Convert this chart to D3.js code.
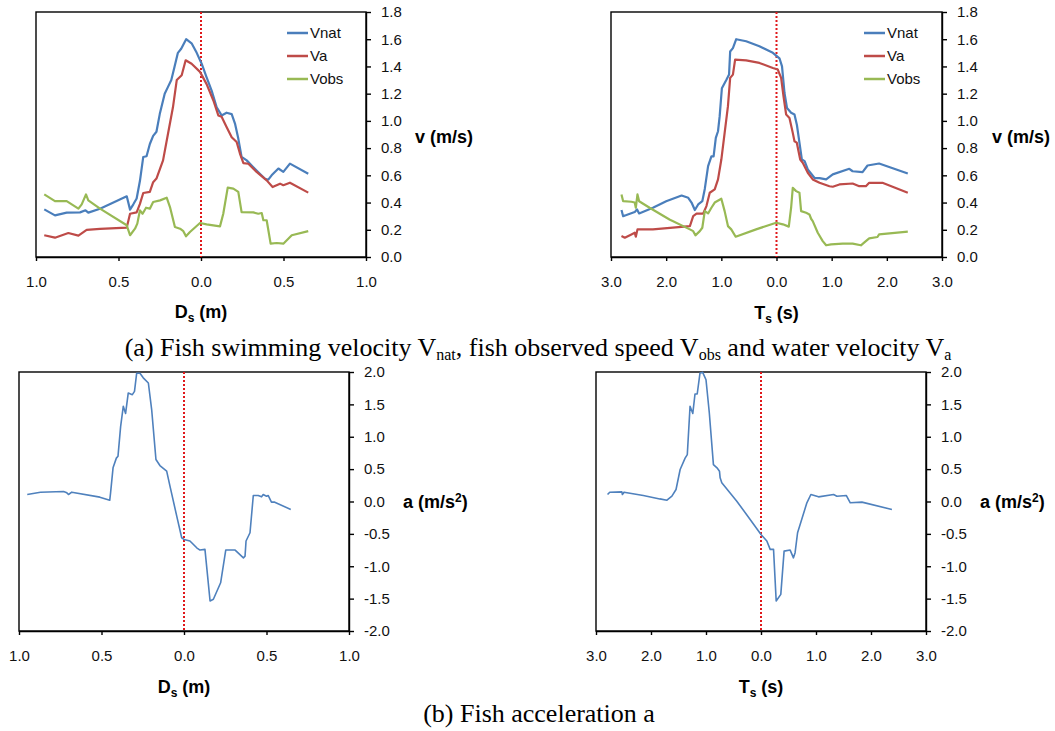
<!DOCTYPE html>
<html>
<head>
<meta charset="utf-8">
<script src="https://cdn.jsdelivr.net/npm/d3@7"></script>
<style>
body { margin: 0; background: #fff; }
svg { display: block; }
</style>
</head>
<body>
<div id="chart-area"></div>
<script>
// ---- data: [x, value] pairs ----
// (a) velocity against distance Ds (m)
const vnatDist = [[-0.95,0.35],[-0.885,0.306],[-0.814,0.326],[-0.733,0.328],[-0.70,0.343],[-0.683,0.326],[-0.612,0.355],[-0.45,0.446],[-0.43,0.348],[-0.41,0.387],[-0.39,0.43],[-0.37,0.56],[-0.35,0.735],[-0.33,0.74],[-0.31,0.83],[-0.29,0.89],[-0.27,0.92],[-0.25,1.05],[-0.22,1.2],[-0.20,1.25],[-0.18,1.3],[-0.16,1.4],[-0.14,1.5],[-0.12,1.53],[-0.09,1.6],[-0.057,1.57],[-0.026,1.5],[0.004,1.42],[0.034,1.32],[0.065,1.22],[0.095,1.10],[0.125,1.04],[0.155,1.06],[0.186,1.05],[0.206,0.98],[0.226,0.87],[0.246,0.735],[0.277,0.71],[0.317,0.66],[0.358,0.61],[0.388,0.575],[0.408,0.568],[0.428,0.60],[0.469,0.65],[0.499,0.625],[0.539,0.686],[0.65,0.612]];
const vaDist = [[-0.95,0.16],[-0.885,0.142],[-0.804,0.176],[-0.743,0.157],[-0.693,0.20],[-0.612,0.206],[-0.45,0.216],[-0.43,0.318],[-0.39,0.328],[-0.37,0.39],[-0.35,0.47],[-0.31,0.478],[-0.29,0.55],[-0.27,0.576],[-0.23,0.71],[-0.20,0.906],[-0.17,1.10],[-0.147,1.30],[-0.117,1.335],[-0.093,1.445],[-0.057,1.42],[-0.006,1.36],[0.034,1.27],[0.075,1.15],[0.105,1.04],[0.125,1.03],[0.155,0.955],[0.186,0.88],[0.216,0.845],[0.236,0.76],[0.257,0.69],[0.287,0.685],[0.337,0.625],[0.398,0.563],[0.434,0.514],[0.479,0.539],[0.499,0.527],[0.539,0.546],[0.65,0.473]];
const vobsDist = [[-0.95,0.46],[-0.885,0.41],[-0.814,0.41],[-0.743,0.355],[-0.723,0.387],[-0.697,0.46],[-0.683,0.416],[-0.612,0.355],[-0.45,0.233],[-0.43,0.16],[-0.40,0.208],[-0.386,0.245],[-0.37,0.343],[-0.354,0.318],[-0.333,0.362],[-0.31,0.355],[-0.29,0.404],[-0.248,0.416],[-0.208,0.436],[-0.188,0.367],[-0.158,0.22],[-0.127,0.208],[-0.107,0.19],[-0.091,0.152],[-0.067,0.184],[-0.006,0.25],[0.034,0.24],[0.115,0.225],[0.135,0.318],[0.162,0.51],[0.196,0.502],[0.226,0.478],[0.246,0.33],[0.317,0.328],[0.347,0.318],[0.368,0.323],[0.378,0.27],[0.398,0.27],[0.422,0.098],[0.459,0.103],[0.499,0.098],[0.55,0.16],[0.65,0.19]];

// (a) velocity against time Ts (s)
const vnatTime = [[-2.81,0.345],[-2.78,0.30],[-2.72,0.308],[-2.57,0.33],[-2.53,0.35],[-2.49,0.32],[-2.24,0.362],[-2.0,0.41],[-1.72,0.452],[-1.60,0.435],[-1.54,0.40],[-1.48,0.345],[-1.42,0.386],[-1.345,0.41],[-1.30,0.50],[-1.24,0.667],[-1.18,0.74],[-1.14,0.74],[-1.10,0.875],[-1.06,0.924],[-1.03,1.035],[-0.99,1.24],[-0.91,1.30],[-0.86,1.34],[-0.84,1.51],[-0.79,1.535],[-0.73,1.60],[-0.55,1.585],[-0.31,1.548],[-0.066,1.50],[0.054,1.46],[0.10,1.40],[0.145,1.205],[0.19,1.095],[0.265,1.06],[0.326,1.047],[0.37,0.97],[0.416,0.84],[0.46,0.716],[0.51,0.704],[0.567,0.643],[0.69,0.58],[0.78,0.58],[0.90,0.57],[1.02,0.607],[1.32,0.648],[1.38,0.63],[1.56,0.624],[1.65,0.672],[1.86,0.687],[2.38,0.614]];
const vaTime = [[-2.81,0.154],[-2.75,0.142],[-2.63,0.166],[-2.57,0.178],[-2.55,0.149],[-2.52,0.203],[-2.24,0.203],[-1.57,0.227],[-1.51,0.30],[-1.45,0.318],[-1.33,0.318],[-1.27,0.374],[-1.21,0.472],[-1.12,0.497],[-1.06,0.57],[-1.0,0.716],[-0.94,0.912],[-0.88,1.108],[-0.84,1.316],[-0.79,1.34],[-0.75,1.45],[-0.55,1.445],[-0.31,1.426],[-0.066,1.389],[0.024,1.377],[0.084,1.316],[0.127,1.18],[0.175,1.047],[0.235,1.022],[0.295,0.912],[0.326,0.85],[0.368,0.84],[0.43,0.716],[0.476,0.692],[0.567,0.619],[0.657,0.57],[0.78,0.545],[0.96,0.52],[1.02,0.516],[1.14,0.533],[1.38,0.54],[1.50,0.52],[1.62,0.52],[1.68,0.545],[1.92,0.545],[2.38,0.472]];
const vobsTime = [[-2.81,0.46],[-2.78,0.41],[-2.63,0.406],[-2.57,0.40],[-2.55,0.362],[-2.52,0.46],[-2.49,0.41],[-2.30,0.362],[-1.94,0.276],[-1.57,0.203],[-1.51,0.19],[-1.47,0.159],[-1.39,0.19],[-1.345,0.215],[-1.30,0.337],[-1.24,0.32],[-1.18,0.362],[-1.12,0.40],[-1.0,0.428],[-0.94,0.337],[-0.88,0.227],[-0.82,0.203],[-0.74,0.149],[-0.37,0.203],[-0.006,0.252],[0.115,0.24],[0.223,0.223],[0.265,0.362],[0.295,0.508],[0.356,0.484],[0.416,0.472],[0.446,0.337],[0.537,0.325],[0.597,0.313],[0.627,0.281],[0.657,0.264],[0.748,0.178],[0.838,0.117],[0.90,0.086],[0.99,0.093],[1.20,0.098],[1.38,0.098],[1.53,0.086],[1.62,0.117],[1.68,0.137],[1.83,0.147],[1.86,0.166],[2.38,0.186]];

// (b) acceleration against distance and time
const accDist = [[-0.95,0.108],[-0.87,0.144],[-0.73,0.154],[-0.71,0.134],[-0.70,0.108],[-0.68,0.144],[-0.51,0.067],[-0.45,0.02],[-0.445,0.134],[-0.43,0.52],[-0.41,0.67],[-0.40,0.70],[-0.384,1.16],[-0.368,1.47],[-0.354,1.36],[-0.338,1.675],[-0.313,1.65],[-0.30,1.70],[-0.287,1.98],[-0.267,1.98],[-0.247,1.91],[-0.216,1.83],[-0.196,1.42],[-0.17,0.648],[-0.146,0.555],[-0.105,0.468],[-0.085,0.237],[-0.044,-0.226],[-0.014,-0.56],[0,-0.586],[0.036,-0.61],[0.077,-0.715],[0.097,-0.75],[0.127,-0.74],[0.158,-1.537],[0.178,-1.51],[0.222,-1.255],[0.253,-0.75],[0.31,-0.75],[0.36,-0.87],[0.37,-0.843],[0.376,-0.61],[0.40,-0.483],[0.42,0.093],[0.45,0.093],[0.47,0.072],[0.48,0.108],[0.50,0.082],[0.51,0.093],[0.53,-0.01],[0.55,-0.01],[0.647,-0.123]];
const accTime = [[-2.79,0.108],[-2.75,0.144],[-2.53,0.149],[-2.52,0.108],[-2.49,0.144],[-2.14,0.093],[-1.84,0.04],[-1.71,0.02],[-1.62,0.082],[-1.545,0.185],[-1.47,0.494],[-1.38,0.67],[-1.34,0.725],[-1.29,1.47],[-1.24,1.36],[-1.20,1.66],[-1.16,1.66],[-1.11,1.98],[-1.06,1.995],[-1.0,1.88],[-0.94,1.37],[-0.865,0.57],[-0.80,0.52],[-0.755,0.468],[-0.743,0.365],[-0.713,0.288],[-0.44,0.005],[-0.197,-0.278],[0,-0.51],[0.106,-0.61],[0.167,-0.74],[0.228,-0.74],[0.276,-1.537],[0.36,-1.434],[0.42,-0.766],[0.53,-0.75],[0.59,-0.87],[0.62,-0.79],[0.665,-0.483],[0.834,-0.02],[0.907,0.108],[1.046,0.072],[1.32,0.108],[1.38,0.082],[1.55,0.093],[1.623,-0.02],[1.835,-0.01],[2.38,-0.123]];

const seriesNames = ["Vnat", "Va", "Vobs"];
const seriesColors = ["#4a7ebb", "#be4b48", "#98b954"];

const svg = d3.select("#chart-area").append("svg")
	.attr("width", 1055)
	.attr("height", 731);

function fmt1(d) { return (Math.round(Math.abs(d) * 10) / 10).toFixed(1); }
function fmtY(d) { return (Math.round(d * 10) / 10).toFixed(1); }

function panel(o) {
	let g = svg.append("g");

	let x = d3.scaleLinear().domain([-o.xMax, o.xMax]).range([o.left, o.right]);
	let y = d3.scaleLinear().domain([o.yMin, o.yMax]).range([o.bottom, o.top]);

	let nx = Math.round(2 * o.xMax / o.xStep);
	let ny = Math.round((o.yMax - o.yMin) / o.yStep);
	let xTicks = d3.range(nx + 1).map(i => -o.xMax + i * o.xStep);
	let yTicks = d3.range(ny + 1).map(i => o.yMin + i * o.yStep);

	// frame
	g.append("rect")
		.attr("x", o.left).attr("y", o.top)
		.attr("width", o.right - o.left).attr("height", o.bottom - o.top)
		.attr("fill", "none").attr("stroke", "#000").attr("stroke-width", 1.4);

	let xAxis = g.append("g")
		.attr("transform", "translate(0," + o.bottom + ")")
		.call(d3.axisBottom(x).tickValues(xTicks).tickFormat(fmt1).tickSize(4).tickPadding(15).tickSizeOuter(0));
	let yAxis = g.append("g")
		.attr("transform", "translate(" + o.right + ",0)")
		.call(d3.axisRight(y).tickValues(yTicks).tickFormat(fmtY).tickSize(5).tickPadding(10).tickSizeOuter(0));

	[xAxis, yAxis].forEach(a => {
		a.select(".domain").attr("stroke", "#000").attr("stroke-width", 1.4);
		a.selectAll(".tick line").attr("stroke", "#000").attr("stroke-width", 1.4);
		a.selectAll("text")
			.attr("font-family", "'Liberation Sans', Arial, sans-serif")
			.attr("font-size", 15).attr("fill", "#111");
	});

	// vertical dotted reference at zero
	g.append("line")
		.attr("x1", x(0)).attr("x2", x(0))
		.attr("y1", o.top).attr("y2", o.bottom)
		.attr("stroke", "#e0181b").attr("stroke-width", 2)
		.attr("stroke-dasharray", "2,2");

	let line = d3.line().x(d => x(d[0])).y(d => y(d[1]));

	o.series.forEach(s => {
		g.append("path")
			.datum(s.data)
			.attr("d", line)
			.attr("fill", "none")
			.attr("stroke", s.color)
			.attr("stroke-width", o.lineWidth)
			.attr("stroke-linejoin", "round");
	});

	if (o.legend) {
		o.series.forEach((s, i) => {
			let ly = o.legend.y + i * 23;
			g.append("line")
				.attr("x1", o.legend.x).attr("x2", o.legend.x + 21)
				.attr("y1", ly).attr("y2", ly)
				.attr("stroke", s.color).attr("stroke-width", 2.5);
			g.append("text")
				.attr("x", o.legend.x + 23).attr("y", ly).attr("dy", "0.35em")
				.attr("font-family", "'Liberation Sans', Arial, sans-serif")
				.attr("font-size", 15).attr("fill", "#111")
				.text(s.name);
		});
	}

	// axis titles
	let yt = g.append("text")
		.attr("x", o.yTitleX).attr("y", o.yTitleY)
		.attr("font-family", "'Liberation Sans', Arial, sans-serif")
		.attr("font-weight", "bold").attr("font-size", 18);
	yt.append("tspan").text(o.yTitle[0]);
	if (o.yTitle[1]) {
		yt.append("tspan").attr("dy", -6).attr("font-size", 12).text(o.yTitle[1]);
		yt.append("tspan").attr("dy", 6).text(o.yTitle[2]);
	}

	let xt = g.append("text")
		.attr("x", x(0)).attr("y", o.xTitleY)
		.attr("text-anchor", "middle")
		.attr("font-family", "'Liberation Sans', Arial, sans-serif")
		.attr("font-weight", "bold").attr("font-size", 18);
	xt.append("tspan").text(o.xTitle[0]);
	xt.append("tspan").attr("dy", 4).attr("font-size", 12).text(o.xTitle[1]);
	xt.append("tspan").attr("dy", -4).text(o.xTitle[2]);
}

function velSeries(a, b, c) {
	return [a, b, c].map((d, i) => ({ data: d, color: seriesColors[i], name: seriesNames[i] }));
}

panel({
	left: 36, right: 366, top: 12, bottom: 257,
	xMax: 1, xStep: 0.5, yMin: 0, yMax: 1.8, yStep: 0.2,
	series: velSeries(vnatDist, vaDist, vobsDist), lineWidth: 2.2,
	legend: { x: 287, y: 33 },
	yTitle: ["v (m/s)"], yTitleX: 415, yTitleY: 143,
	xTitle: ["D", "s", " (m)"], xTitleY: 318
});

panel({
	left: 611, right: 942, top: 12, bottom: 257,
	xMax: 3, xStep: 1, yMin: 0, yMax: 1.8, yStep: 0.2,
	series: velSeries(vnatTime, vaTime, vobsTime), lineWidth: 2.2,
	legend: { x: 864, y: 33 },
	yTitle: ["v (m/s)"], yTitleX: 992, yTitleY: 143,
	xTitle: ["T", "s", " (s)"], xTitleY: 319
});

panel({
	left: 19, right: 349, top: 372, bottom: 631,
	xMax: 1, xStep: 0.5, yMin: -2, yMax: 2, yStep: 0.5,
	series: [{ data: accDist, color: "#4f81bd" }], lineWidth: 1.6,
	yTitle: ["a (m/s", "2", ")"], yTitleX: 403, yTitleY: 508,
	xTitle: ["D", "s", " (m)"], xTitleY: 693
});

panel({
	left: 596, right: 926, top: 372, bottom: 631,
	xMax: 3, xStep: 1, yMin: -2, yMax: 2, yStep: 0.5,
	series: [{ data: accTime, color: "#4f81bd" }], lineWidth: 1.6,
	yTitle: ["a (m/s", "2", ")"], yTitleX: 980, yTitleY: 508,
	xTitle: ["T", "s", " (s)"], xTitleY: 693
});

// captions
let capA = svg.append("text")
	.attr("x", 538).attr("y", 356)
	.attr("text-anchor", "middle")
	.attr("font-family", "'Liberation Serif', 'Times New Roman', serif")
	.attr("font-size", 26);
capA.append("tspan").text("(a) Fish swimming velocity V");
capA.append("tspan").attr("dy", 4).attr("font-size", 16).text("nat");
capA.append("tspan").attr("dy", -4).text(", fish observed speed V");
capA.append("tspan").attr("dy", 4).attr("font-size", 16).text("obs");
capA.append("tspan").attr("dy", -4).text(" and water velocity V");
capA.append("tspan").attr("dy", 4).attr("font-size", 16).text("a");

svg.append("text")
	.attr("x", 539).attr("y", 722)
	.attr("text-anchor", "middle")
	.attr("font-family", "'Liberation Serif', 'Times New Roman', serif")
	.attr("font-size", 26)
	.text("(b) Fish acceleration a");
</script>
</body>
</html>
